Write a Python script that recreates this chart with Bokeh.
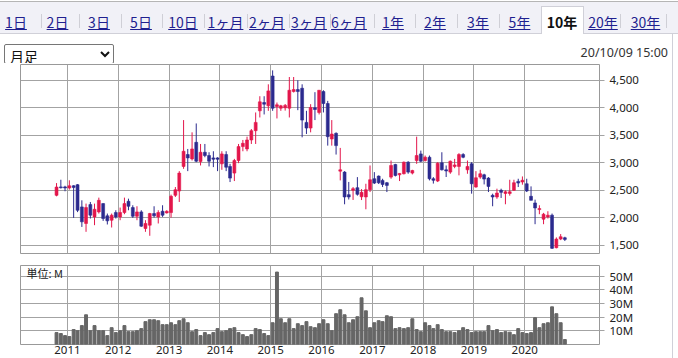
from datetime import datetime
import pandas as pd
from bokeh.plotting import figure
from bokeh.models import (ColumnDataSource, Range1d, FixedTicker, NumeralTickFormatter,
                          PrintfTickFormatter, DatetimeTickFormatter, Div, Label)
from bokeh.layouts import column, row
from bokeh.embed import file_html
from bokeh.resources import INLINE

# ---------------- data ----------------
months = pd.date_range("2010-10-01", "2020-10-01", freq="MS")  # monthly candles

open_ = [2406, 2560, 2560, 2540, 2580, 2600, 2195, 1893, 2237, 2013, 2104, 2255, 2032, 1953, 2092,
         2013, 2092, 2297, 2183, 2025, 2104, 1802, 1862, 2074, 2013, 2116, 2086, 2092, 2406, 2485,
         2932, 3149, 3070, 3372, 3022, 3191, 3131, 3088, 3088, 2980, 3149, 2932, 2811, 3040, 3294,
         3251, 3415, 3584, 3946, 4097, 4037, 4580, 4024, 3994, 4000, 3994, 4297, 4333, 4357, 3735,
         3632, 4001, 3916, 4297, 4079, 3433, 3535, 2847, 2829, 2418, 2497, 2545, 2380, 2376, 2509,
         2708, 2756, 2678, 2635, 2738, 2968, 2780, 2799, 3010, 2811, 3040, 3161, 3040, 3100, 2708,
         2666, 2998, 2871, 2829, 2932, 2932, 3149, 2871, 2980, 2557, 2738, 2780, 2720, 2406, 2376,
         2497, 2440, 2440, 2497, 2660, 2650, 2617, 2388, 2267, 2146, 1971, 2013, 2044, 1452, 1609,
         1633]
high = [2629, 2690, 2580, 2680, 2590, 2610, 2315, 2255, 2285, 2255, 2364, 2260, 2074, 2074, 2134,
        2183, 2364, 2345, 2225, 2207, 2134, 1953, 2086, 2207, 2134, 2225, 2134, 2418, 2557, 2847,
        3777, 3251, 3554, 3716, 3342, 3342, 3191, 3209, 3100, 3209, 3209, 2980, 3070, 3342, 3415,
        3475, 3614, 3916, 4212, 4212, 4429, 4683, 4097, 4055, 4070, 4562, 4562, 4502, 4429, 3946,
        4067, 4286, 4321, 4321, 4127, 3777, 3554, 3270, 2847, 2650, 2557, 2738, 2520, 2617, 2950,
        2829, 2768, 2708, 2650, 3040, 2980, 2811, 3022, 3028, 2871, 3475, 3221, 3131, 3131, 2738,
        3010, 3191, 2950, 3040, 3070, 3174, 3174, 3040, 3010, 2847, 2871, 2799, 2738, 2436, 2527,
        2527, 2497, 2690, 2690, 2708, 2750, 2708, 2569, 2327, 2225, 2086, 2116, 2074, 1639, 1700,
        1651]
low = [2388, 2530, 2480, 2510, 1995, 2100, 1830, 1741, 1983, 1862, 2074, 1940, 1875, 1820, 1983,
       1953, 2062, 2134, 1995, 1953, 1832, 1741, 1669, 2001, 1893, 2013, 2074, 2001, 2376, 2285,
       2889, 2847, 3040, 3010, 2950, 3100, 2932, 2920, 2847, 2871, 2847, 2648, 2666, 2992, 3209,
       3209, 3342, 3342, 3825, 3880, 3946, 3946, 3807, 3946, 3950, 3825, 4280, 3958, 3463, 3524,
       3554, 3777, 3880, 3916, 3312, 3312, 3149, 2678, 2243, 2330, 2322, 2400, 2320, 2152, 2466,
       2612, 2612, 2557, 2466, 2708, 2750, 2666, 2787, 2799, 2787, 2980, 3010, 3022, 2678, 2620,
       2648, 2859, 2740, 2799, 2900, 2770, 3082, 2799, 2436, 2545, 2708, 2605, 2466, 2207, 2343,
       2358, 2243, 2400, 2485, 2557, 2600, 2466, 2315, 1880, 2062, 1880, 1983, 1428, 1440, 1590,
       1573]
close = [2557, 2545, 2540, 2580, 2550, 2134, 1923, 2183, 2044, 2152, 2315, 1983, 1941, 2044, 2013,
         2092, 2255, 2207, 2025, 2104, 1844, 1893, 2074, 2032, 2092, 2044, 2116, 2388, 2509, 2811,
         3209, 3088, 3251, 3028, 3191, 3131, 3028, 3064, 3064, 3161, 2919, 2720, 3040, 3294, 3354,
         3415, 3584, 3735, 4109, 4067, 4309, 3994, 4055, 4037, 4045, 4321, 4333, 4297, 3777, 3632,
         4007, 3970, 4321, 4079, 3475, 3523, 3312, 2871, 2376, 2376, 2527, 2424, 2460, 2509, 2690,
         2629, 2635, 2605, 2587, 2950, 2768, 2805, 3010, 2829, 2859, 3131, 3028, 3100, 2708, 2680,
         2992, 2871, 2850, 3028, 2960, 3149, 3100, 2932, 2617, 2726, 2799, 2702, 2569, 2376, 2448,
         2460, 2470, 2470, 2636, 2630, 2680, 2485, 2315, 2176, 2164, 2062, 2044, 1440, 1609, 1651,
         1603]
volume_m = [8.7, 8.0, 6.5, 5.8, 10.9, 10.1, 13.8, 21.7, 10.1, 13.8, 10.1, 10.1, 6.5, 12.3, 8.7,
            10.1, 13.8, 9.4, 9.4, 10.1, 11.6, 16.7, 18.1, 18.1, 17.4, 14.5, 14.5, 15.9, 14.5, 17.4,
            18.8, 15.9, 9.4, 10.9, 6.5, 8.7, 7.2, 8.7, 11.6, 9.4, 10.1, 11.6, 12.3, 8.7, 7.2,
            5.8, 7.2, 11.6, 10.9, 8.0, 6.5, 15.9, 52.9, 18.8, 15.9, 18.8, 11.6, 15.2, 13.8, 16.7,
            13.0, 12.3, 15.2, 18.1, 15.2, 10.1, 22.5, 25.4, 21.7, 15.9, 18.1, 20.3, 34.1, 24.6, 12.3,
            15.9, 17.4, 16.7, 21.0, 20.3, 11.6, 12.3, 11.6, 12.3, 18.8, 10.9, 9.4, 15.9, 13.8, 11.6,
            14.5, 10.9, 9.4, 9.4, 8.7, 10.1, 12.3, 10.9, 8.7, 9.4, 9.4, 9.4, 13.8, 10.1, 10.9,
            8.7, 9.4, 9.0, 7.2, 11.6, 8.7, 8.0, 8.7, 19.6, 12.3, 15.2, 15.9, 27.5, 22.5, 15.9,
            3.6]

price_ticks = [1500, 2000, 2500, 3000, 3500, 4000, 4500]
volume_ticks = [10, 20, 30, 40, 50]
year_ticks = list(range(2011, 2021))

tab_labels = ["1日", "2日", "3日", "5日", "10日", "1ヶ月", "2ヶ月", "3ヶ月", "6ヶ月",
              "1年", "2年", "3年", "5年", "10年", "20年", "30年"]
selected_tab = "10年"
period_label = "月足"
timestamp = "20/10/09 15:00"
unit_label = "単位: M"

# ---------------- styles ----------------
UP = "#E3164B"
DOWN = "#2B2A8E"
GRID = "#a3a3a3"
FONT_JP = "Noto Sans CJK JP"
FONT_NUM = "Noto Sans"

DAY_MS = 86400000
x_mid = months + pd.Timedelta(days=14)
year_ms = [datetime(y, 1, 1).timestamp() * 1000 for y in year_ticks]

src = ColumnDataSource(dict(
    x=x_mid,
    open=open_, high=high, low=low, close=close,
    top=[max(o, c) for o, c in zip(open_, close)],
    bottom=[min(o, c) for o, c in zip(open_, close)],
    color=[UP if c >= o else DOWN for o, c in zip(open_, close)],
    vol=volume_m,
))

x_start = datetime(2010, 1, 29)
x_end = datetime(2021, 6, 21)
xr = Range1d(start=x_start, end=x_end)


def style_common(f):
    f.outline_line_color = "#999999"
    f.outline_line_width = 1
    f.background_fill_color = "white"
    f.border_fill_color = "white"
    f.xgrid.ticker = FixedTicker(ticks=year_ms)
    f.xgrid.grid_line_color = GRID
    f.ygrid.grid_line_color = GRID
    for ax in f.yaxis:
        ax.axis_line_color = None
        ax.major_tick_line_color = GRID
        ax.major_tick_out = 5
        ax.major_tick_in = 0
        ax.minor_tick_line_color = None
        ax.major_label_standoff = 5
        ax.major_label_text_font = FONT_NUM
        ax.major_label_text_font_size = "11.5px"
        ax.major_label_text_color = "#222222"


# ---------------- price figure ----------------
p = figure(width=672, height=191, x_axis_type="datetime", x_range=xr,
           y_range=Range1d(1346, 4790), x_axis_location=None, y_axis_location="right",
           toolbar_location=None, output_backend="svg",
           min_border_left=20, min_border_right=73, min_border_top=1, min_border_bottom=1)
p.yaxis.ticker = FixedTicker(ticks=price_ticks)
p.yaxis.formatter = NumeralTickFormatter(format="0,0")
style_common(p)

p.segment(x0="x", y0="high", x1="x", y1="low", color="color", line_width=1, source=src)
p.vbar(x="x", top="top", bottom="bottom", width=21 * DAY_MS, fill_color="color",
       line_color="color", line_width=0.6, source=src)

# ---------------- volume figure ----------------
v = figure(width=672, height=104, x_axis_type="datetime", x_range=xr,
           y_range=Range1d(0, 57.7), y_axis_location="right",
           toolbar_location=None, output_backend="svg",
           min_border_left=20, min_border_right=73, min_border_top=11, min_border_bottom=14)
v.yaxis.ticker = FixedTicker(ticks=volume_ticks)
v.yaxis.formatter = PrintfTickFormatter(format="%dM")
style_common(v)
v.xaxis.ticker = FixedTicker(ticks=year_ms)
v.xaxis.formatter = DatetimeTickFormatter(years="%Y", months="%Y", days="%Y", hours="%Y",
                                          hourmin="%Y", minutes="%Y", minsec="%Y",
                                          seconds="%Y", milliseconds="%Y", microseconds="%Y",
                                          context=None)
v.xaxis.axis_line_color = None
v.xaxis.major_tick_line_color = None
v.xaxis.major_tick_out = 0
v.xaxis.major_tick_in = 0
v.xaxis.minor_tick_line_color = None
v.xaxis.major_label_standoff = 1
v.xaxis.major_label_text_font = FONT_NUM
v.xaxis.major_label_text_font_size = "11.5px"
v.xaxis.major_label_text_color = "#222222"

v.vbar(x="x", top="vol", bottom=0, width=21 * DAY_MS, color="#666666", source=src)

span_ms = (x_end - x_start).total_seconds() * 1000
v.add_layout(Label(x=x_start.timestamp() * 1000 + span_ms * 6 / 579, y=52.0, text=unit_label,
                   text_font=FONT_JP, text_font_size="11px", text_color="#222222",
                   text_baseline="middle"))

# ---------------- header (tabs, select, timestamp) ----------------
centers = [16, 57.5, 99, 141, 183, 225.5, 267, 309, 349, 393, 435, 478, 519.5, 562, 603, 645.5]
seps = [41, 79, 121, 162, 204, 247, 289, 330, 374, 415, 457, 499, 620, 666]
parts = ['<div style="position:relative;width:672px;height:63px;overflow:hidden;background:#fff;">',
         '<div style="position:absolute;left:0;top:1px;width:672px;height:1px;background:#b5b5b5"></div>',
         '<div style="position:absolute;left:0;top:2px;width:672px;height:31px;background:#f1f1f7"></div>',
         '<div style="position:absolute;left:0;top:33px;width:672px;height:1px;background:#d0d0d8"></div>',
         '<div style="position:absolute;left:541px;top:6px;width:43px;height:28px;box-sizing:border-box;'
         'background:#fff;border:1px solid #d0d0d8;border-bottom:none"></div>']
for sx in seps:
    parts.append(f'<div style="position:absolute;left:{sx}px;top:14px;width:1px;height:14px;background:#cfcfd6"></div>')
for c, t in zip(centers, tab_labels):
    if t == selected_tab:
        st = "color:#111;font-weight:bold;text-decoration:none;"
    else:
        st = "color:#1f1f8f;text-decoration:underline;"
    parts.append(f'<span style="position:absolute;left:{c}px;top:13px;transform:translateX(-50%);'
                 f'font-family:\'{FONT_JP}\';font-size:14px;line-height:18px;white-space:nowrap;{st}">{t}</span>')
parts.append(f'<select style="position:absolute;left:4px;top:44px;width:110px;height:20px;'
             f'font-family:\'{FONT_JP}\';font-size:14px;border:1px solid #767676;border-radius:2px;'
             f'background:#fff;color:#111;padding:0 1px;margin:0"><option>{period_label}</option></select>')
parts.append(f'<div style="position:absolute;right:4px;top:45px;height:16px;font-family:\'{FONT_NUM}\';'
             f'font-size:12.5px;line-height:16px;color:#333;white-space:nowrap">{timestamp}</div>')
parts.append('</div>')
header = Div(text="".join(parts), width=672, height=63, margin=0)

side = Div(text='<div style="position:relative;width:6px;height:358px;overflow:hidden;background:#fff">'
                '<div style="position:absolute;left:0;top:1px;width:6px;height:1px;background:#b5b5b5"></div>'
                '<div style="position:absolute;left:0;top:2px;width:6px;height:31px;background:#f1f1f7"></div>'
                '<div style="position:absolute;left:0;top:33px;width:6px;height:1px;background:#d0d0d8"></div>'
                '<div style="position:absolute;left:0;top:33px;width:1px;height:325px;background:#d0d0d8"></div>'
                '</div>', width=6, height=358, margin=0)

layout = row(column(header, p, v, spacing=0), side, spacing=0)

with open("out.html", "w", encoding="utf-8") as fh:
    fh.write(file_html(layout, INLINE, title="chart"))
